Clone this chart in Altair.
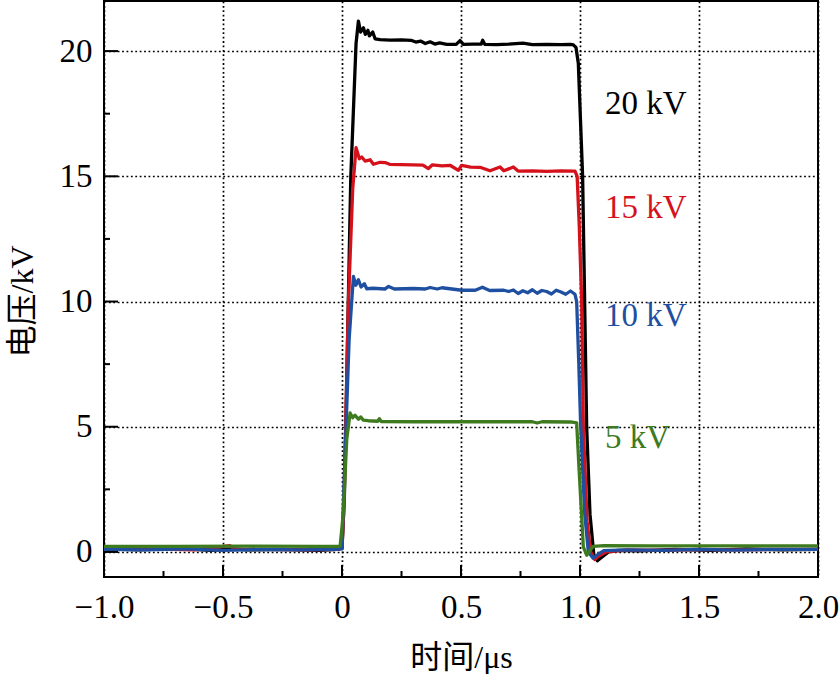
import altair as alt
import pandas as pd

# Pulse voltage waveforms: time in µs, voltage in kV
t20 = [-1.00, -0.85, -0.70, -0.55, -0.46, -0.40, -0.25, -0.10, -0.02, 0.000, 0.010, 0.037, 0.059, 0.069,
       0.078, 0.090, 0.098, 0.109, 0.115, 0.129, 0.139, 0.160, 0.200, 0.250, 0.290, 0.310, 0.330, 0.350,
       0.370, 0.390, 0.410, 0.440, 0.480, 0.496, 0.510, 0.550, 0.585, 0.591, 0.600, 0.650, 0.700, 0.760,
       0.800, 0.860, 0.920, 0.960, 0.972, 0.983, 0.993, 1.011, 1.028, 1.042, 1.058, 1.073, 1.090, 1.120,
       1.160, 1.250, 1.400, 1.550, 1.700, 1.850, 2.000]
v20 = [0.12, 0.08, 0.14, 0.06, 0.12, 0.08, 0.10, 0.06, 0.10, 0.15, 2.20, 15.00, 20.30, 21.20,
       20.76, 20.93, 20.67, 20.83, 20.61, 20.76, 20.49, 20.46, 20.44, 20.45, 20.43, 20.36, 20.40, 20.30,
       20.37, 20.28, 20.33, 20.27, 20.27, 20.42, 20.27, 20.28, 20.28, 20.43, 20.27, 20.26, 20.28, 20.32,
       20.26, 20.27, 20.26, 20.27, 20.25, 20.15, 19.50, 15.00, 5.00, 1.50, -0.10, -0.35, -0.22, 0.00,
       0.06, 0.04, 0.10, 0.06, 0.12, 0.08, 0.10]

t15 = [-1.00, -0.80, -0.62, -0.47, -0.45, -0.30, -0.15, -0.02, 0.000, 0.008, 0.027, 0.045, 0.059, 0.073,
       0.083, 0.097, 0.118, 0.132, 0.160, 0.181, 0.200, 0.250, 0.300, 0.340, 0.363, 0.380, 0.420, 0.454,
       0.489, 0.503, 0.540, 0.580, 0.622, 0.664, 0.680, 0.720, 0.740, 0.800, 0.860, 0.920, 0.979, 0.988,
       0.997, 1.007, 1.014, 1.030, 1.045, 1.062, 1.080, 1.110, 1.200, 1.350, 1.500, 1.650, 1.800, 2.000]
v15 = [0.10, 0.12, 0.08, 0.25, 0.10, 0.10, 0.08, 0.10, 0.14, 1.80, 10.00, 14.50, 16.14, 15.70,
       15.77, 15.61, 15.66, 15.48, 15.56, 15.55, 15.48, 15.47, 15.46, 15.45, 15.31, 15.46, 15.42, 15.44,
       15.24, 15.44, 15.37, 15.36, 15.22, 15.37, 15.22, 15.37, 15.21, 15.22, 15.20, 15.22, 15.21, 15.00,
       13.00, 10.00, 5.00, 1.20, 0.00, -0.30, -0.15, 0.00, 0.08, 0.06, 0.10, 0.08, 0.10, 0.10]

t10 = [-1.00, -0.82, -0.66, -0.50, -0.34, -0.18, -0.03, 0.000, 0.006, 0.030, 0.048, 0.058, 0.069, 0.080,
       0.094, 0.104, 0.130, 0.180, 0.196, 0.220, 0.300, 0.350, 0.370, 0.400, 0.420, 0.470, 0.503, 0.560,
       0.590, 0.620, 0.680, 0.700, 0.720, 0.740, 0.760, 0.780, 0.800, 0.820, 0.840, 0.860, 0.880, 0.900,
       0.920, 0.940, 0.960, 0.979, 0.986, 0.995, 1.003, 1.020, 1.035, 1.055, 1.075, 1.100, 1.200, 1.350,
       1.500, 1.650, 1.800, 2.000]
v10 = [0.10, 0.08, 0.12, 0.06, 0.10, 0.08, 0.10, 0.12, 2.00, 8.50, 11.00, 10.65, 10.87, 10.58,
       10.71, 10.51, 10.53, 10.50, 10.60, 10.50, 10.52, 10.50, 10.56, 10.50, 10.55, 10.49, 10.45, 10.45,
       10.57, 10.44, 10.45, 10.40, 10.46, 10.32, 10.43, 10.35, 10.47, 10.33, 10.44, 10.40, 10.30, 10.45,
       10.38, 10.29, 10.42, 10.29, 10.00, 7.50, 5.00, 1.50, 0.00, -0.25, -0.10, 0.05, 0.08, 0.06,
       0.10, 0.07, 0.10, 0.10]

t5 = [-1.00, -0.70, -0.40, -0.10, -0.008, 0.005, 0.020, 0.034, 0.045, 0.055, 0.069, 0.079, 0.090, 0.110,
      0.150, 0.157, 0.165, 0.300, 0.500, 0.700, 0.800, 0.820, 0.840, 0.960, 0.986, 0.995, 1.014, 1.028,
      1.045, 1.056, 1.100, 1.300, 1.500, 1.700, 2.000]
v5 = [0.22, 0.22, 0.23, 0.22, 0.22, 1.50, 4.50, 5.55, 5.36, 5.46, 5.30, 5.39, 5.26, 5.24,
      5.22, 5.32, 5.21, 5.20, 5.20, 5.20, 5.20, 5.15, 5.20, 5.19, 5.15, 3.50, 0.20, -0.13,
      0.10, 0.22, 0.25, 0.24, 0.24, 0.24, 0.24]

series_names = ["20 kV", "15 kV", "10 kV", "5 kV"]
series_colors = ["#000000", "#d5121c", "#1f4fa0", "#3e7a1e"]
label_t = [1.105, 1.105, 1.105, 1.105]
label_v = [17.87, 13.75, 9.41, 4.54]

x_major = [-1.0, -0.5, 0.0, 0.5, 1.0, 1.5, 2.0]
x_minor = [-0.75, -0.25, 0.25, 0.75, 1.25, 1.75]
y_major = [0, 5, 10, 15, 20]
y_minor = [2.5, 7.5, 12.5, 17.5]

SERIF = "Liberation Serif, Noto Sans CJK SC"
W, H = 714, 576

frames = []
for name, ts, vs in zip(series_names, [t20, t15, t10, t5], [v20, v15, v10, v5]):
    frames.append(pd.DataFrame({"series": name, "t": ts, "v": vs, "idx": range(len(ts))}))
waves = pd.concat(frames, ignore_index=True)

labels = pd.DataFrame({"series": series_names, "t": label_t, "v": label_v})

xscale = alt.Scale(domain=[-1.0, 2.0], nice=False, zero=False)
yscale = alt.Scale(domain=[-1.0, 22.0], nice=False, zero=False)
cscale = alt.Scale(domain=series_names, range=series_colors)

grid_style = dict(grid=True, gridColor="black", gridDash=[1.8, 2.6], gridWidth=1.7,
                  ticks=False, domain=False, labelFont=SERIF, labelFontSize=33,
                  labelColor="black", labelFlush=False, labelOverlap=False,
                  titleFont=SERIF, titleFontSize=32, titleFontWeight="normal", titleColor="black")

x_enc = alt.X("t:Q", scale=xscale, axis=alt.Axis(
    values=x_major, title="时间/μs",
    labelExpr="datum.value == 0 ? '0' : replace(format(datum.value, '.1f'), '-', '−')",
    labelPadding=14, titleX=W / 2, titleY=80, titleBaseline="middle", titleAnchor="middle",
    **grid_style))
y_enc = alt.Y("v:Q", scale=yscale, axis=alt.Axis(
    values=y_major, title="电压/kV", labelPadding=12,
    titleX=-82, titleY=H / 2 + 12, titleAngle=-90, titleBaseline="middle", titleAlign="center",
    **grid_style))

lines = alt.Chart(waves).mark_line(strokeWidth=3.3, strokeJoin="round").encode(
    x=x_enc,
    y=y_enc,
    color=alt.Color("series:N", scale=cscale, legend=None),
    detail="series:N",
    order="idx:Q",
)

texts = alt.Chart(labels).mark_text(align="left", baseline="middle", font=SERIF, fontSize=33).encode(
    x=x_enc,
    y=y_enc,
    color=alt.Color("series:N", scale=cscale, legend=None),
    text="series:N",
)

# inward ticks on the left and bottom edges
def yticks(vals, length):
    return alt.Chart(pd.DataFrame({"v": vals})).mark_rule(color="black", strokeWidth=2).encode(
        y=y_enc, x=alt.value(0), x2=alt.value(length))

def xticks(vals, length):
    return alt.Chart(pd.DataFrame({"t": vals})).mark_rule(color="black", strokeWidth=2).encode(
        x=x_enc, y=alt.value(H), y2=alt.value(H - length))

chart = alt.layer(
    lines, texts,
    yticks(y_major, 14), yticks(y_minor, 6),
    xticks(x_major, 12), xticks(x_minor, 6),
).properties(
    width=W, height=H,
    padding={"left": 104, "top": 1, "right": 21, "bottom": 97},
    autosize=alt.AutoSizeParams(type="none"),
).configure_view(stroke="black", strokeWidth=2)

chart.save("out.html", embed_options={"renderer": "svg", "actions": False})
